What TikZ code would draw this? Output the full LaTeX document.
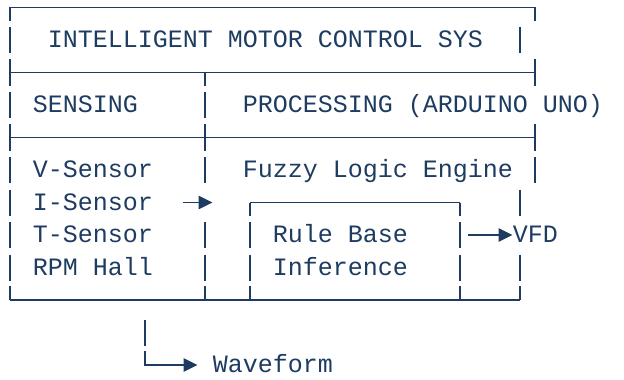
\documentclass[tikz,border=0pt]{standalone}
\usepackage{fontspec}
\setmonofont{Liberation Mono}
\usepackage{xcolor}
\usepackage{tikz}
\usetikzlibrary{arrows.meta}
\definecolor{ink}{RGB}{30,60,97}

\begin{document}
\begin{tikzpicture}[x=7.5pt,y=-16.25pt,
  art/.style={ink,line width=0.65pt},
  flow/.style={art,-{Triangle[length=7pt,width=6.8pt]}},
  lbl/.style={font=\ttfamily\fontsize{12.5pt}{15pt}\selectfont,text=ink,anchor=base west,inner sep=0pt}]
  \useasboundingbox (-0.6667,-0.2308) rectangle (40.933,11.4308);
  % horizontal rules
  \foreach \r/\a/\b in {0/0/35,2/0/35,4/0/35,9/0/34,6/16/30} {\draw[art] (\a,\r)--(\b,\r);}
  % vertical bars, tees, corners
  \foreach \c/\r in {0/1,34/1,0/3,13/3,0/5,13/5,35/5,0/6,34/6,0/7,13/7,16/7,30/7,0/8,13/8,16/8,30/8,34/8,9/10} {\draw[art] (\c,\r-0.4)--(\c,\r+0.4);}
  \foreach \c/\r in {0/2,35/2,0/4,13/4,35/4} {\draw[art] (\c,\r-0.42)--(\c,\r+0.42);}
  \foreach \c/\r in {0/0,35/0,13/2,16/6,30/6} {\draw[art] (\c,\r)--(\c,\r+0.42);}
  \foreach \c/\r in {0/9,13/9,16/9,30/9,34/9} {\draw[art] (\c,\r-0.42)--(\c,\r);}
  % texts
  \node[lbl] (title) at (2.5,1.234) {INTELLIGENT MOTOR CONTROL SYS};
  \node[lbl] (sensing) at (1.5,3.234) {SENSING};
  \node[lbl] (processing) at (15.5,3.234) {PROCESSING (ARDUINO UNO)};
  \foreach \n/\t [count=\i from 5] in {vsens/V-Sensor,isens/I-Sensor,tsens/T-Sensor,rpm/RPM Hall} {\node[lbl] (\n) at (1.5,\i.234) {\t};}
  \node[lbl] (fuzzy) at (15.5,5.234) {Fuzzy Logic Engine};
  \node[lbl] (rulebase) at (17.5,7.234) {Rule Base};
  \node[lbl] (inference) at (17.5,8.234) {Inference};
  \node[lbl] (vfd) at (33.5,7.234) {VFD};
  \node[lbl] (waveform) at (13.5,11.234) {Waveform};
  % arrows
  \coordinate (isout) at (11.5,6); \coordinate (procin) at (13.5,6);
  \coordinate (rbout) at (30.5,7);
  \coordinate (tap) at (9,10.58); \coordinate (wavein) at (12.5,11);
  \draw[flow] (isout)--(procin);
  \draw[flow] (rbout)--(rbout -| vfd.west);
  \draw[flow] (tap)|-(wavein);
\end{tikzpicture}
\end{document}
